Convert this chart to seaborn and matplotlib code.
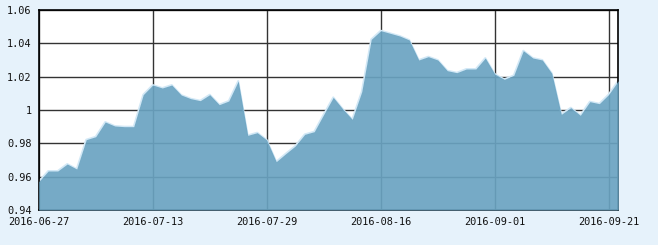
import matplotlib
matplotlib.use("Agg")
import matplotlib.pyplot as plt
import seaborn as sns
import pandas as pd
import numpy as np

dates = [
    "2016-06-27", "2016-06-28", "2016-06-29", "2016-06-30", "2016-07-01",
    "2016-07-04", "2016-07-05", "2016-07-06", "2016-07-07", "2016-07-08",
    "2016-07-11", "2016-07-12", "2016-07-13", "2016-07-14", "2016-07-15",
    "2016-07-18", "2016-07-19", "2016-07-20", "2016-07-21", "2016-07-22",
    "2016-07-25", "2016-07-26", "2016-07-27", "2016-07-28", "2016-07-29",
    "2016-08-01", "2016-08-02", "2016-08-03", "2016-08-04", "2016-08-05",
    "2016-08-08", "2016-08-09", "2016-08-10", "2016-08-11", "2016-08-12",
    "2016-08-15", "2016-08-16", "2016-08-17", "2016-08-18", "2016-08-19",
    "2016-08-22", "2016-08-23", "2016-08-24", "2016-08-25", "2016-08-26",
    "2016-08-29", "2016-08-30", "2016-08-31", "2016-09-01", "2016-09-02",
    "2016-09-05", "2016-09-06", "2016-09-07", "2016-09-08", "2016-09-09",
    "2016-09-12", "2016-09-13", "2016-09-14", "2016-09-19", "2016-09-20",
    "2016-09-21", "2016-09-22",
]
values = [
    0.957, 0.9634, 0.9634, 0.9676, 0.9646,
    0.9822, 0.984, 0.9928, 0.9904, 0.990,
    0.990, 1.0092, 1.015, 1.0132, 1.015,
    1.009, 1.0068, 1.0056, 1.0092, 1.0032,
    1.0054, 1.0174, 0.9848, 0.9864, 0.982,
    0.969, 0.9738, 0.9784, 0.9854, 0.987,
    0.9974, 1.0076, 1.0006, 0.9944, 1.011,
    1.0424, 1.0476, 1.046, 1.0444, 1.042,
    1.030, 1.032, 1.030, 1.0236, 1.0224,
    1.0246, 1.0246, 1.0312, 1.0216, 1.0184,
    1.0208, 1.0356, 1.0312, 1.030, 1.022,
    0.9974, 1.0014, 0.9968, 1.005, 1.0038,
    1.0094, 1.0176,
]
x_tick_labels = ["2016-06-27", "2016-07-13", "2016-07-29", "2016-08-16", "2016-09-01", "2016-09-21"]
y_ticks = [0.94, 0.96, 0.98, 1.00, 1.02, 1.04, 1.06]
y_tick_labels = ["0.94", "0.96", "0.98", "1", "1.02", "1.04", "1.06"]

df = pd.DataFrame({"date": dates, "value": values})
df["idx"] = np.arange(len(df))

sns.set_style("white")
plt.rcParams["font.family"] = ["DejaVu Sans Mono", "DejaVu Sans"]

bg = "#E6F2FB"
fig = plt.figure(figsize=(6.58, 2.45), dpi=100, facecolor=bg)
ax = fig.add_axes([38.7 / 658, 1 - 210 / 245, (618.3 - 38.7) / 658, 200 / 245])
ax.set_facecolor("white")

ax.set_ylim(0.94, 1.06)
ax.set_xlim(0, len(df) - 1)
ax.set_yticks(y_ticks)
ax.set_yticklabels(y_tick_labels)
tick_pos = [dates.index(d) for d in x_tick_labels]
ax.set_xticks(tick_pos)
ax.set_xticklabels(x_tick_labels)

ax.grid(True, color="#333333", linewidth=1.0, zorder=0)
ax.set_axisbelow(True)

sns.lineplot(data=df, x="idx", y="value", ax=ax, color="#D2E8F6", linewidth=1.4, zorder=2)
ax.fill_between(df["idx"], df["value"], 0.94, color=(106 / 255, 163 / 255, 193 / 255), alpha=0.92,
                linewidth=0, zorder=3)

for s in ax.spines.values():
    s.set_color("black")
    s.set_linewidth(1.2)
    s.set_visible(True)

ax.tick_params(axis="both", direction="out", length=3, width=1, color="black",
               labelsize=7.4, labelcolor="#111111", pad=2)
ax.set_xlabel("")
ax.set_ylabel("")

fig.savefig("out.png", dpi=100, facecolor=bg)
